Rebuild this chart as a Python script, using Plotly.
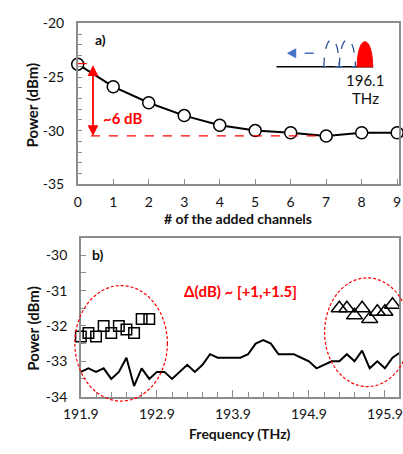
import plotly.graph_objects as go

# ---------------- data ----------------
channels = [0, 1, 2, 3, 4, 5, 6, 7, 8, 9]
power_a = [-23.8, -25.9, -27.4, -28.6, -29.5, -30.0, -30.2, -30.5, -30.2, -30.2]

freq_line = [191.9, 192.0, 192.1, 192.2, 192.3, 192.4, 192.5, 192.6, 192.7, 192.8,
             192.9, 193.0, 193.1, 193.2, 193.3, 193.4, 193.5, 193.6, 193.7, 193.8,
             193.9, 194.0, 194.1, 194.2, 194.3, 194.4, 194.5, 194.6, 194.7, 194.8,
             194.9, 195.0, 195.1, 195.2, 195.3, 195.4, 195.5, 195.6, 195.7, 195.8,
             195.9, 196.0, 196.1]
power_line = [-33.3, -33.2, -33.3, -33.2, -33.5, -33.3, -32.9, -33.7, -33.2, -33.5,
              -33.3, -33.3, -33.5, -33.3, -33.1, -33.3, -33.1, -32.8, -32.9, -32.9,
              -32.9, -32.9, -32.8, -32.5, -32.4, -32.5, -32.8, -32.8, -32.8, -32.9,
              -33.0, -33.2, -33.1, -33.0, -33.0, -32.8, -33.0, -32.7, -33.2, -33.0,
              -33.2, -32.9, -32.75]

freq_sq = [191.9, 192.0, 192.1, 192.2, 192.3, 192.4, 192.5, 192.6, 192.7, 192.8]
power_sq = [-32.3, -32.2, -32.3, -32.0, -32.2, -32.0, -32.1, -32.2, -31.8, -31.8]

freq_tri = [195.3, 195.4, 195.5, 195.6, 195.7, 195.8, 195.9, 196.0, 196.1]
power_tri = [-31.5, -31.5, -31.7, -31.5, -31.8, -31.6, -31.6, -31.4, -31.55]

yticks_a = [-20, -25, -30, -35]
yticklabels_a = ["-20", "-25", "-30", "-35"]
yticks_b = [-30, -31, -32, -33, -34]
yticklabels_b = ["-30", "-31", "-32", "-33", "-34"]
xticks_b = [191.9, 192.9, 193.9, 194.9, 195.9]
xticklabels_b = ["191.9", "192.9", "193.9", "194.9", "195.9"]

# ---------------- layout helpers ----------------
W, H = 403, 454
FONT = "Lato"
GRAY = "#8c8c8c"
RED = "#ff0000"
BLUE = "#2f5597"


def px(x, y):
    return x / W, 1 - y / H


def path(points_cmd):
    out = []
    for tok in points_cmd:
        if isinstance(tok, str):
            out.append(tok)
        else:
            a, b = px(*tok)
            out.append(f"{a:.5f},{b:.5f}")
    return " ".join(out)


fig = go.Figure()

fig.add_trace(go.Scatter(
    x=channels, y=power_a, mode="lines+markers", xaxis="x", yaxis="y",
    line=dict(color="black", width=2),
    marker=dict(symbol="circle", size=12, color="white", line=dict(color="black", width=1.5)),
    cliponaxis=False, showlegend=False))

fig.add_trace(go.Scatter(
    x=freq_line, y=power_line, mode="lines", xaxis="x2", yaxis="y2",
    line=dict(color="black", width=2), showlegend=False))

fig.add_trace(go.Scatter(
    x=freq_sq, y=power_sq, mode="markers", xaxis="x2", yaxis="y2",
    marker=dict(symbol="square-open", size=10.5, color="black", line=dict(width=1.5)),
    cliponaxis=False, showlegend=False))

fig.add_trace(go.Scatter(
    x=freq_tri, y=power_tri, mode="markers", xaxis="x2", yaxis="y2",
    marker=dict(symbol="triangle-up-open", size=14, color="black", line=dict(width=1.5)),
    cliponaxis=False, showlegend=False))

axis_common = dict(showline=True, linecolor=GRAY, linewidth=1.5, mirror=True,
                   showgrid=False, zeroline=False, ticks="inside", tickcolor=GRAY,
                   tickwidth=1, ticklabeloverflow="allow",
                   tickfont=dict(family=FONT, size=14, color="#111"))

fig.update_layout(
    width=W, height=H, margin=dict(l=0, r=0, t=0, b=0),
    paper_bgcolor="white", plot_bgcolor="white",
    font=dict(family=FONT, size=14, color="#111"),
    xaxis=dict(domain=[63 / W, 402 / W], range=[0, 9.053], tickvals=channels,
               anchor="y", ticklen=5, ticklabelstandoff=4, **axis_common),
    yaxis=dict(domain=[1 - 182 / H, 1 - 15 / H], range=[-35, -20], tickvals=yticks_a,
               ticktext=yticklabels_a, anchor="x", ticklen=5, ticklabelstandoff=9,
               minor=dict(dtick=1, ticks="inside", ticklen=5, tickcolor=GRAY),
               **axis_common),
    xaxis2=dict(domain=[66.3 / W, 402 / W], range=[191.9, 196.086], tickvals=xticks_b,
                ticktext=xticklabels_b, anchor="y2", ticklen=7, ticklabelstandoff=4,
                minor=dict(tick0=191.9, dtick=0.2, ticks="inside", ticklen=5, tickcolor=GRAY),
                **axis_common),
    yaxis2=dict(domain=[1 - 402.7 / H, 1 - 237.5 / H], range=[-34, -29.5], tickvals=yticks_b,
                ticktext=yticklabels_b, anchor="x2", ticklen=5, ticklabelstandoff=9,
                minor=dict(dtick=0.5, ticks="inside", ticklen=5, tickcolor=GRAY),
                **axis_common),
)

shapes = []
# panel a) red dashed reference lines
shapes.append(dict(type="line", xref="x", yref="y", x0=0, x1=0.45, y0=-23.75, y1=-23.75,
                   line=dict(color=RED, width=1.2, dash="dash")))
shapes.append(dict(type="line", xref="x", yref="y", x0=0.37, x1=6.95, y0=-30.5, y1=-30.5,
                   line=dict(color=RED, width=1.2, dash="dash")))
# panel b) red ellipses
for (cx, cy, rx, ry) in [(108.8, 347.3, 48.8, 60.0), (368.5, 335.8, 45.0, 56.5)]:
    x0, y0 = px(cx - rx, cy + ry)
    x1, y1 = px(cx + rx, cy - ry)
    shapes.append(dict(type="circle", xref="paper", yref="paper", x0=x0, x1=x1, y0=y0, y1=y1,
                       line=dict(color=RED, width=1.2, dash="3px,2px")))
# inset: baseline
a0, b0 = px(272.7, 60)
a1, b1 = px(374.5, 60)
shapes.append(dict(type="line", xref="paper", yref="paper", x0=a0, x1=a1, y0=b0, y1=b1,
                   line=dict(color="black", width=1.5)))
# inset: red channel
shapes.append(dict(type="path", xref="paper", yref="paper",
                   path=path(["M", (357.7, 60), "C", (358.2, 42), (362, 34), (366, 34),
                              "C", (370, 34), (373.8, 42), (374.3, 60), "Z"]),
                   fillcolor=RED, line=dict(color=RED, width=1)))
# inset: blue dashed channels
for (l, r) in [(322.7, 339.0), (339.0, 356.0)]:
    m = (l + r) / 2
    shapes.append(dict(type="path", xref="paper", yref="paper",
                       path=path(["M", (l, 60), "C", (l + 0.5, 40), (m - 4, 32), (m, 32),
                                  "C", (m + 4, 32), (r - 0.5, 40), (r, 60), "Z"]),
                       line=dict(color=BLUE, width=1.3, dash="dash")))
# inset: blue dashed arrow
a0, b0 = px(312, 46)
a1, b1 = px(291, 46)
shapes.append(dict(type="line", xref="paper", yref="paper", x0=a0, x1=a1, y0=b0, y1=b1,
                   line=dict(color="#4472c4", width=1.5, dash="dash")))
shapes.append(dict(type="path", xref="paper", yref="paper",
                   path=path(["M", (284.5, 46), "L", (293, 41.5), "L", (293, 50.5), "Z"]),
                   fillcolor="#4472c4", line=dict(color="#4472c4", width=1)))
fig.update_layout(shapes=shapes)

ann = []


def text(x, y, s, size=14, bold=False, color="#111", angle=0):
    xa, ya = px(x, y)
    ann.append(dict(x=xa, y=ya, xref="paper", yref="paper", text=f"<b>{s}</b>" if bold else s,
                    showarrow=False, xanchor="center", yanchor="middle", textangle=angle,
                    font=dict(family=FONT, size=size, color=color)))


text(15, 100, "Power (dBm)", size=15, bold=True, angle=-90)
text(15, 332, "Power (dBm)", size=15, bold=True, angle=-90)
text(232.5, 218, "# of the added channels", bold=True)
text(233.7, 441, "Frequency (THz)", bold=True)
text(87, 32, "a)", bold=True)
text(84, 255, "b)", bold=True)
text(110, 113, "~6 dB", size=15, bold=True, color=RED)
text(235, 293, "Δ(dB) ~ [+1,+1.5]", size=15, bold=True, color=RED)
text(366.5, 73.5, "196.1", size=15)
text(366.5, 92, "THz", size=15)

# double-headed red arrow
ann.append(dict(x=0.43, y=-30.5, ax=0.43, ay=-23.75, xref="x", yref="y", axref="x", ayref="y",
                showarrow=True, arrowhead=2, startarrowhead=2, arrowside="end+start",
                arrowsize=1.2, startarrowsize=1.2, arrowwidth=1.8, arrowcolor=RED, text=""))
fig.update_layout(annotations=ann)

fig.write_html("out.html", config={"displayModeBar": False},
               post_script="document.body.style.margin='0px';document.body.style.overflow='hidden';")
